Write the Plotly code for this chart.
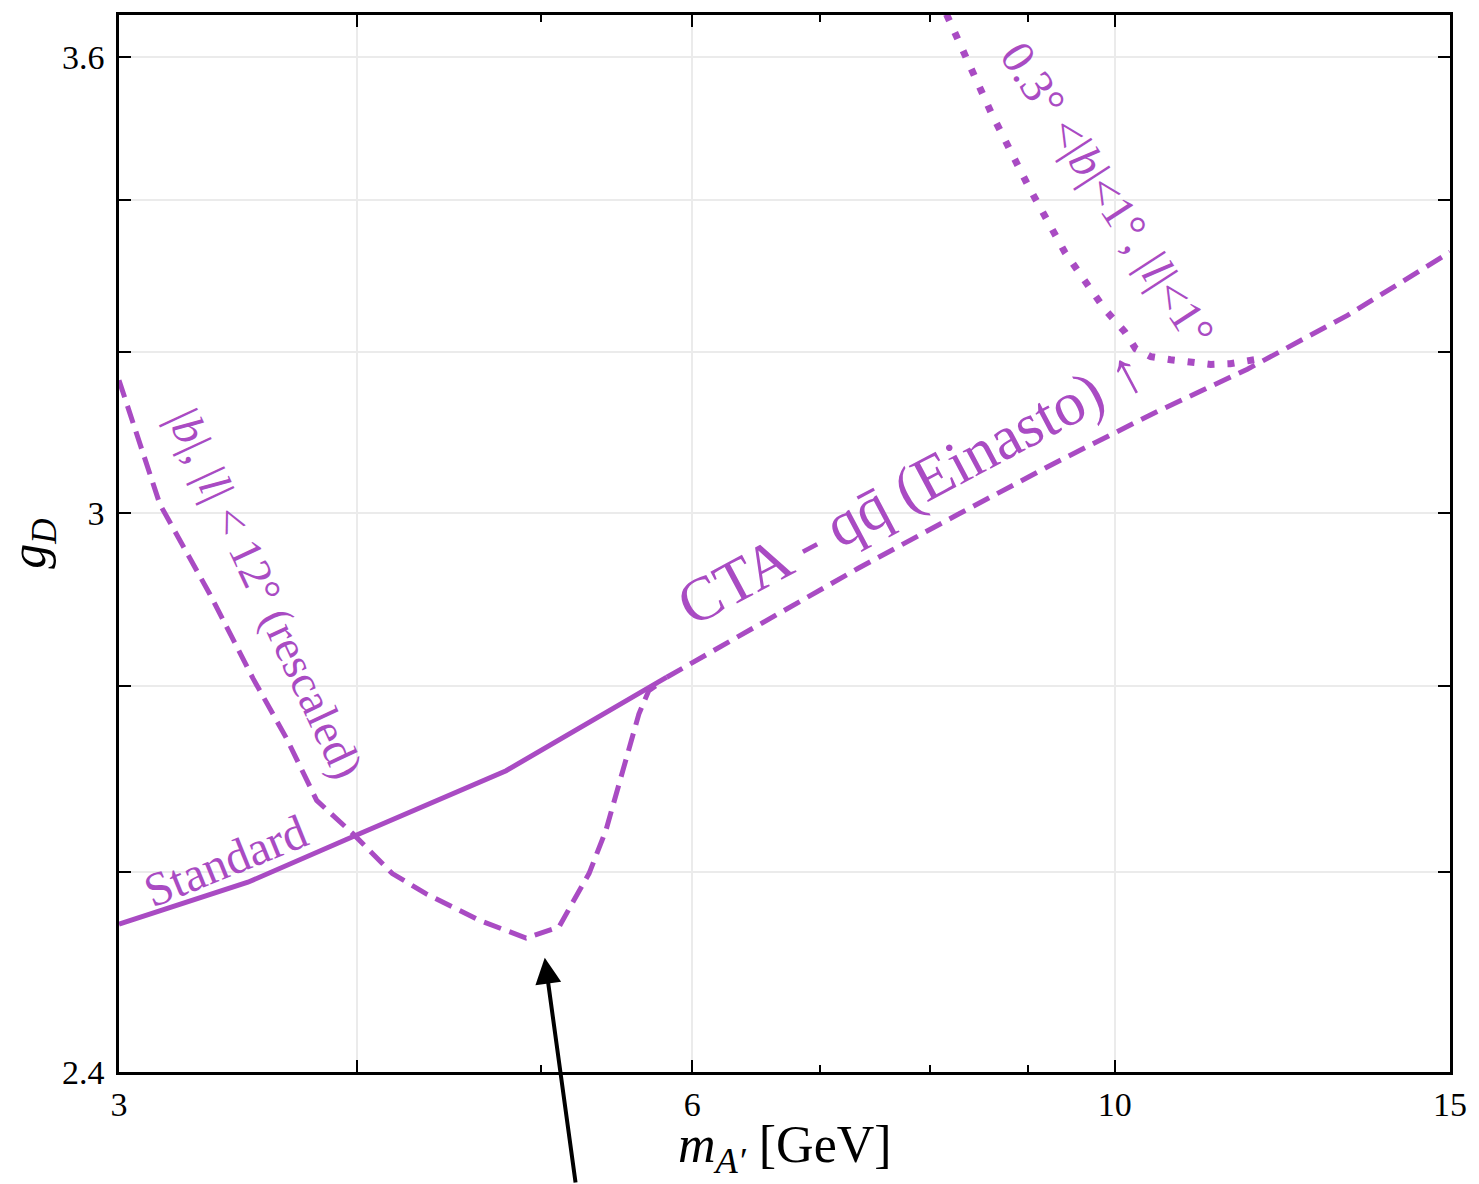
import math
import plotly.graph_objects as go

# Dark photon mass [GeV] and coupling g_D for each constraint curve
standard_m = [3.0, 3.506, 3.996, 4.791, 5.818]
standard_g = [2.546, 2.589, 2.638, 2.707, 2.810]

cta_m = [5.818, 6.501, 7.334, 8.276, 9.336, 10.535, 11.74, 13.25, 15.0]
cta_g = [2.810, 2.870, 2.935, 2.999, 3.063, 3.125, 3.178, 3.247, 3.330]

wide_m = [3.0, 3.152, 3.348, 3.527, 3.674, 3.810, 3.979, 4.175, 4.350,
          4.637, 4.908, 5.107, 5.188, 5.296, 5.405, 5.511, 5.625, 5.693, 5.783]
wide_g = [3.164, 3.011, 2.905, 2.809, 2.742, 2.675, 2.640, 2.598, 2.577,
          2.550, 2.532, 2.543, 2.567, 2.598, 2.643, 2.704, 2.769, 2.795, 2.805]

inner_m = [8.16, 8.612, 9.005, 9.415, 9.880, 10.121, 10.256, 10.446, 10.70,
           11.23, 11.50, 11.84]
inner_g = [3.662, 3.521, 3.420, 3.330, 3.255, 3.226, 3.204, 3.194, 3.190,
           3.184, 3.185, 3.190]

x_ticks = [3, 4, 6, 10, 15]
x_labels = ["3", "", "6", "10", "15"]
x_minor = [5, 7, 8, 9]
y_ticks = [2.4, 2.6, 2.8, 3.0, 3.2, 3.4, 3.6]
y_labels = ["2.4", "", "", "3", "", "", "3.6"]

PURPLE = "#A94BC3"
FONT = "Liberation Serif"

fig = go.Figure()

fig.add_trace(go.Scatter(x=standard_m, y=standard_g, mode="lines",
                         line=dict(color=PURPLE, width=5)))
fig.add_trace(go.Scatter(x=cta_m, y=cta_g, mode="lines",
                         line=dict(color=PURPLE, width=5, dash="18px,9px")))
fig.add_trace(go.Scatter(x=wide_m, y=wide_g, mode="lines",
                         line=dict(color=PURPLE, width=5, dash="18px,9px")))
fig.add_trace(go.Scatter(x=inner_m, y=inner_g, mode="lines",
                         line=dict(color=PURPLE, width=7, dash="7px,13px")))

# Curve labels: (text, mass, coupling, rotation, font size)
labels = [
    ("Standard", 3.414, 2.612, -22, 48),
    ("CTA - qq\u0304 (Einasto) \u2191", 7.82, 3.031, -28, 62),
    ("|<i>b</i>|, |<i>l</i>| < 12\u00b0 (rescaled)", 3.58, 2.905, 65, 46),
    ("0.3\u00b0 <|<i>b</i>|<1\u00b0, |<i>l</i>|<1\u00b0", 9.916, 3.408, 57, 47),
]
# annotations on log axes take log10 coordinates
for text, xm, yg, ang, size in labels:
    fig.add_annotation(x=math.log10(xm), y=math.log10(yg), xref="x", yref="y",
                       text=text, showarrow=False, textangle=ang,
                       xanchor="center", yanchor="middle",
                       font=dict(family=FONT, size=size, color=PURPLE))

# Pointer to the dip of the wide-region curve
fig.add_annotation(x=math.log10(5.02), y=math.log10(2.512), xref="x", yref="y",
                   text="", showarrow=True, arrowhead=2, arrowsize=1.3,
                   arrowwidth=4, arrowcolor="black", ax=31, ay=250)

axis_common = dict(
    type="log", showline=True, linecolor="black", linewidth=2.5,
    mirror="ticks", ticks="inside", tickcolor="black", tickwidth=2,
    showgrid=True, gridcolor="#ebebeb", gridwidth=2, zeroline=False,
    tickfont=dict(family=FONT, size=34, color="black"),
)

fig.update_xaxes(
    **axis_common,
    range=[0.47712, 1.17609],
    tickmode="array", tickvals=x_ticks, ticktext=x_labels, ticklen=12,
    minor=dict(tickmode="array", tickvals=x_minor, ticklen=7, ticks="inside",
               tickcolor="black", tickwidth=2, showgrid=False),
)
fig.update_yaxes(
    **axis_common,
    range=[0.380211, 0.563600],
    tickmode="array", tickvals=y_ticks, ticktext=y_labels, ticklen=12,
    ticklabelstandoff=5,
    title=dict(text="<i>g</i><sub><i>D</i></sub>",
               font=dict(family=FONT, size=50, color="black"), standoff=10),
)

# x-axis title placed below the tick labels, inside the page
fig.add_annotation(x=0.5, y=0, xref="paper", yref="paper", yshift=-111,
                   xanchor="center", yanchor="bottom", showarrow=False,
                   text="<i>m</i><sub><i>A\u2032</i></sub> [GeV]",
                   font=dict(family=FONT, size=52, color="black"))

fig.update_layout(
    width=1479, height=1184,
    margin=dict(l=119, r=26, t=12, b=112),
    paper_bgcolor="white", plot_bgcolor="white",
    showlegend=False,
)

fig.write_html("out.html")
